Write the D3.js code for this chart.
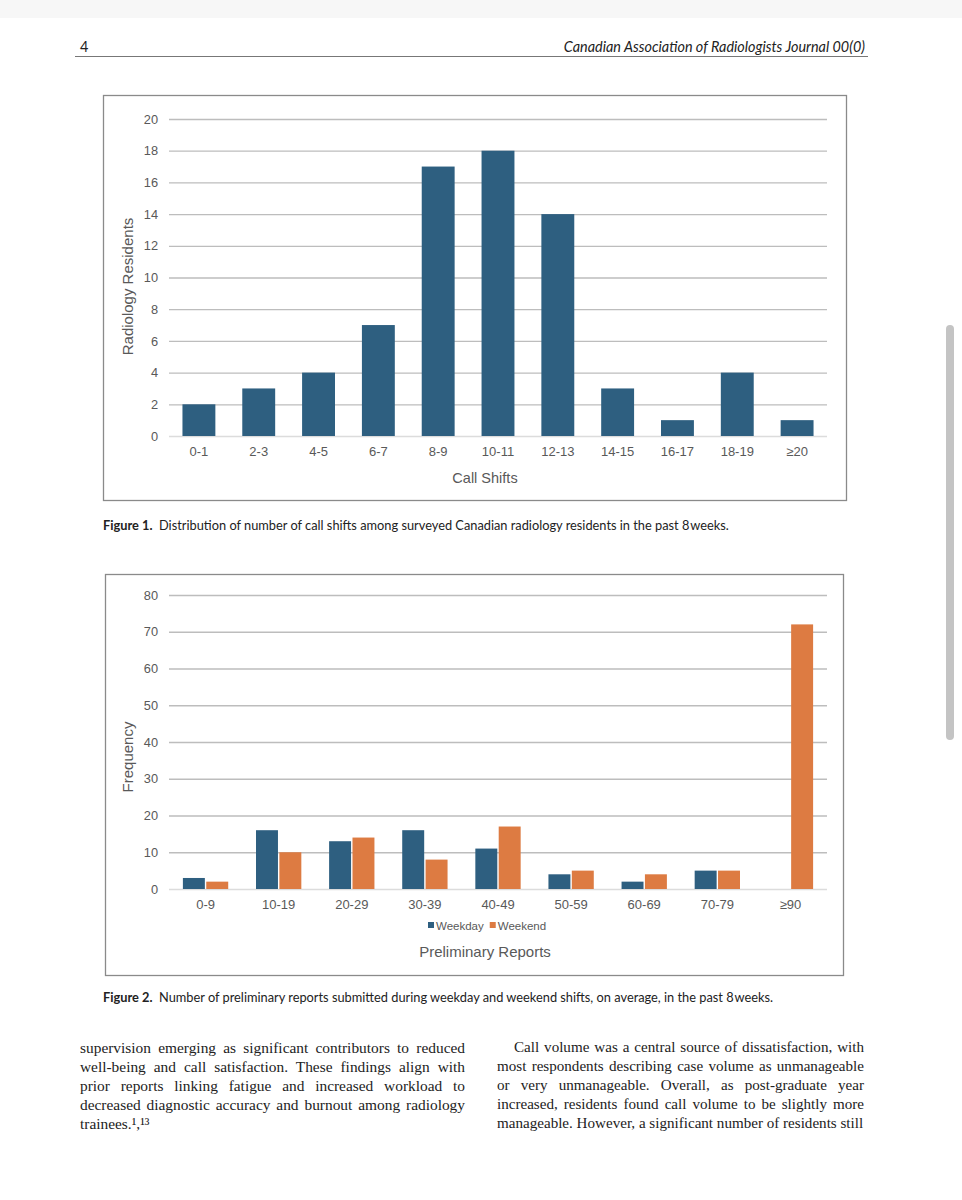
<!DOCTYPE html>
<html><head><meta charset="utf-8">
<script src="https://cdn.jsdelivr.net/npm/d3@7"></script>
<style>
body{margin:0;background:#fff;width:962px;height:1200px;position:relative;overflow:hidden;font-family:"Liberation Sans",Arial,sans-serif}
.abs{position:absolute}
.hdr{font-family:Lato,"Open Sans",sans-serif;color:#222;font-size:14.4px}
.cap{font-family:Lato,"Open Sans",sans-serif;font-size:12.8px;color:#222;white-space:nowrap}
.col{font-family:"Liberation Serif","Times New Roman",serif;line-height:19px;color:#222;text-align:justify;text-align-last:left}
svg text{font-family:"Liberation Sans",Arial,sans-serif}
</style></head>
<body>
<div class="abs" style="left:0;top:0;width:962px;height:18px;background:#f7f7f7"></div>
<div class="abs hdr" style="left:80px;top:38px">4</div>
<div class="abs hdr" style="right:97px;top:38px;font-style:italic">Canadian Association of Radiologists Journal 00(0)</div>
<div class="abs" style="left:75px;top:56px;width:793px;height:1px;background:#777"></div>
<div class="abs" style="left:946px;top:325px;width:8px;height:415px;border-radius:4px;background:#c4c4c4"></div>
<svg id="fig1" class="abs" style="left:0;top:0" width="962" height="1200"></svg>
<div class="abs cap" style="left:103px;top:517px"><b>Figure 1.</b>&nbsp; Distribution of number of call shifts among surveyed Canadian radiology residents in the past 8&#8202;weeks.</div>
<div class="abs cap" style="left:103px;top:989px"><b>Figure 2.</b>&nbsp; Number of preliminary reports submitted during weekday and weekend shifts, on average, in the past 8&#8202;weeks.</div>
<div class="abs col" style="left:80px;top:1038px;width:385px;font-size:15.4px">supervision emerging as significant contributors to reduced well-being and call satisfaction. These findings align with prior reports linking fatigue and increased workload to decreased diagnostic accuracy and burnout among radiology trainees.&#185;&#8728;&#185;&#179;</div>
<script>
// Figure 1 data
const shiftCats = ["0-1","2-3","4-5","6-7","8-9","10-11","12-13","14-15","16-17","18-19","\u226520"];
const shiftCounts = [2,3,4,7,17,18,14,3,1,4,1];
const shiftTicks = [0,2,4,6,8,10,12,14,16,18,20];
// Figure 2 data
const reportCats = ["0-9","10-19","20-29","30-39","40-49","50-59","60-69","70-79","\u226590"];
const weekdayVals = [3,16,13,16,11,4,2,5,0];
const weekendVals = [2,10,14,8,17,5,4,5,72];
const freqTicks = [0,10,20,30,40,50,60,70,80];
const seriesNames = ["Weekday","Weekend"];
</script>
<div class="abs col" style="left:497px;top:1038px;width:367px;text-indent:17px;font-size:15.1px">Call volume was a central source of dissatisfaction, with most respondents describing case volume as unmanageable or very unmanageable. Overall, as post-graduate year increased, residents found call volume to be slightly more manageable. However, a significant number of residents still</div>
<script>
// fix the superscript reference marker: "¹,¹³"
document.querySelectorAll(".col")[0].lastChild.textContent =
  document.querySelectorAll(".col")[0].lastChild.textContent.replace("\u00B9\u2218\u00B9\u00B3","\u00B9\u02CF\u00B9\u00B3".replace("\u02CF",","));

const BLUE="#2e5f80", ORANGE="#dd7b42", TXT="#595959", GRID="#bdbdbd";
const svg = d3.select("#fig1");

function frame(x0,y0,x1,y1){
  svg.append("rect").attr("x",x0+0.5).attr("y",y0+0.5).attr("width",x1-x0).attr("height",y1-y0)
    .attr("fill","none").attr("stroke","#8a8a8a").attr("stroke-width",1.3);
}
function yAxis(g, y, ticks, x0, x1){
  const ax = d3.axisLeft(y).tickValues(ticks).tickSize(-(x1-x0)).tickPadding(11);
  g.attr("transform",`translate(${x0},0)`).call(ax);
  g.attr("font-size",null).attr("font-family",null);
  g.select(".domain").remove();
  g.selectAll(".tick line").attr("stroke",d=>d===0?"#dcdcdc":GRID).attr("stroke-width",1.3);
  g.selectAll(".tick text").attr("fill",TXT).style("font-size","12.8px");
}
function xAxis(g, x, yb){
  const ax = d3.axisBottom(x).tickSize(0).tickPadding(11);
  g.attr("transform",`translate(0,${yb})`).call(ax);
  g.attr("font-size",null).attr("font-family",null);
  g.select(".domain").remove();
  g.selectAll(".tick text").attr("fill",TXT).style("font-size","13px");
}

// ---- Figure 1
frame(103,95,846,500);
{
  const L=169,R=827,T=119,B=436;
  const x=d3.scaleBand().domain(shiftCats).range([L,R]).paddingInner(0.45).paddingOuter(0.225);
  const y=d3.scaleLinear().domain([0,20]).range([B,T]);
  yAxis(svg.append("g"), y, shiftTicks, L, R);
  svg.append("g").selectAll("rect").data(shiftCats).join("rect")
    .attr("x",d=>x(d)).attr("width",x.bandwidth())
    .attr("y",(d,i)=>y(shiftCounts[i])).attr("height",(d,i)=>B-y(shiftCounts[i]))
    .attr("fill",BLUE);
  xAxis(svg.append("g"), x, B);
  svg.append("text").attr("x",485).attr("y",483).attr("text-anchor","middle")
    .attr("fill",TXT).style("font-size","14.5px").text("Call Shifts");
  svg.append("text").attr("transform",`translate(133,${(T+B)/2+9}) rotate(-90)`).attr("text-anchor","middle")
    .attr("fill",TXT).style("font-size","15px").text("Radiology Residents");
}

// ---- Figure 2
frame(105,574,843,975);
{
  const L=169,R=827,T=595,B=889;
  const x=d3.scaleBand().domain(reportCats).range([L,R]).paddingInner(0.38).paddingOuter(0.19);
  const xs=d3.scaleBand().domain(seriesNames).range([0,x.bandwidth()]).paddingInner(0.06);
  const y=d3.scaleLinear().domain([0,80]).range([B,T]);
  yAxis(svg.append("g"), y, freqTicks, L, R);
  const series=[weekdayVals,weekendVals], cols=[BLUE,ORANGE];
  seriesNames.forEach((s,si)=>{
    svg.append("g").selectAll("rect").data(reportCats).join("rect")
      .attr("x",d=>x(d)+xs(s)).attr("width",xs.bandwidth())
      .attr("y",(d,i)=>y(series[si][i])).attr("height",(d,i)=>B-y(series[si][i]))
      .attr("fill",cols[si]);
  });
  xAxis(svg.append("g"), x, B);
  // legend
  const lg=svg.append("g").attr("transform","translate(428,930)");
  let lx=0;
  seriesNames.forEach((s,si)=>{
    lg.append("rect").attr("x",lx).attr("y",-8).attr("width",6).attr("height",6).attr("fill",cols[si]);
    const t=lg.append("text").attr("x",lx+8).attr("y",0).attr("fill",TXT).style("font-size","11.5px").text(s);
    lx += t.node().getComputedTextLength()+14;
  });
  svg.append("text").attr("x",485).attr("y",957).attr("text-anchor","middle")
    .attr("fill",TXT).style("font-size","15px").text("Preliminary Reports");
  svg.append("text").attr("transform",`translate(133,757) rotate(-90)`).attr("text-anchor","middle")
    .attr("fill",TXT).style("font-size","15px").text("Frequency");
}
</script>
</body></html>
